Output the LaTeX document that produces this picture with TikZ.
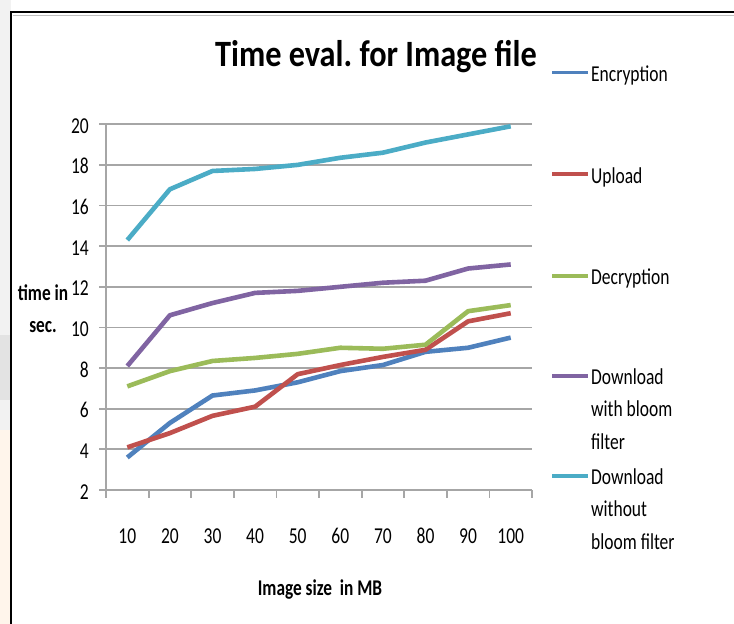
\documentclass[tikz,border=0pt]{standalone}
\usepackage{fontspec}
\usepackage{graphicx}
\setmainfont{Carlito}
\definecolor{encblue}{HTML}{4F81BD}
\definecolor{upred}{HTML}{C0504D}
\definecolor{decgreen}{HTML}{9BBB59}
\definecolor{dlpurple}{HTML}{8064A2}
\definecolor{dlcyan}{HTML}{4BACC6}
\definecolor{gridgray}{HTML}{A6A6A6}
\newcommand{\tallbox}[1]{\scalebox{1}[1.3]{#1}}
\begin{document}
\frenchspacing
\begin{tikzpicture}[x=1pt, y=-1pt,
  series/.style={line width=4.6pt, line join=round},
  gridln/.style={gridgray, line width=1.8pt},
  ticklbl/.style={inner sep=0pt, font=\fontsize{17.5}{17.5}\selectfont},
  leglbl/.style={inner sep=0pt, align=left, anchor=base west, font=\fontsize{17.5}{32.7}\selectfont},
  axlbl/.style={inner sep=0pt, anchor=base, font=\bfseries\fontsize{17.3}{17.3}\selectfont}]
\useasboundingbox (0,0) rectangle (734,624);
% slide background and frame
\fill[white] (0,0) rectangle (734,624);
\fill[gray!10] (0,0) rectangle (11,624);
\fill[gray!22] (0,335) rectangle (11,400);
\fill[orange!8] (0,430) rectangle (11,624);
\draw[line width=2.6pt, line cap=rect] (11,624) -- (11,12) -- (734,12);
\draw[gray!50, line width=0.8pt] (13,15.5) -- (734,15.5);
% title
\node[inner sep=0pt, anchor=base, font=\bfseries\fontsize{32.3}{32.3}\selectfont] (title) at (376,66) {\scalebox{1}[1.15]{Time eval. for Image file}};
% plot area: x = category, y = seconds
\begin{scope}[shift={(84.7,530.64)}, x=42.6pt, y=20.32pt]
\foreach \v in {4,6,...,20}
  \draw[gridln] (0.336,\v) -- (10.5,\v);
\draw[gridln] (0.336,2) -- (10.5,2);
\draw[gridln] (0.5,20) -- (0.5,1.606);
\foreach \t in {1.5,2.5,...,10.5}
  \draw[gridln] (\t,2) -- (\t,1.606);
\foreach \v in {2,4,...,20}
  \node[ticklbl, anchor=base east] (yt\v) at (0.1,\v-0.443) {\tallbox{\v}};
\foreach \i in {1,...,10}
  \node[ticklbl, anchor=base] (xt\i) at (\i,-0.625) {\tallbox{\the\numexpr\i*10\relax}};
% data series
\draw[series, encblue] plot coordinates {(1,3.6) (2,5.3) (3,6.65) (4,6.9) (5,7.3) (6,7.85) (7,8.15) (8,8.8) (9,9.0) (10,9.5)};
\draw[series, upred] plot coordinates {(1,4.1) (2,4.8) (3,5.65) (4,6.1) (5,7.7) (6,8.15) (7,8.55) (8,8.9) (9,10.3) (10,10.7)};
\draw[series, decgreen] plot coordinates {(1,7.1) (2,7.85) (3,8.35) (4,8.5) (5,8.7) (6,9.0) (7,8.95) (8,9.15) (9,10.8) (10,11.1)};
\draw[series, dlpurple] plot coordinates {(1,8.1) (2,10.6) (3,11.2) (4,11.7) (5,11.8) (6,12.0) (7,12.2) (8,12.3) (9,12.9) (10,13.1)};
\draw[series, dlcyan] plot coordinates {(1,14.3) (2,16.8) (3,17.7) (4,17.8) (5,18.0) (6,18.35) (7,18.6) (8,19.1) (9,19.5) (10,19.9)};
\end{scope}
% axis titles
\node[axlbl] (ylabA) at (43,300) {\tallbox{time in}};
\node[axlbl] (ylabB) at (43,332) {\tallbox{sec.}};
\node[axlbl] (xlab) at (320,595) {\tallbox{Image size\ \ in MB}};
% legend
\draw[series, encblue, line width=3.6pt] (552,72.5) -- (588,72.5);
\node[leglbl] (legA) at (591,81) {\tallbox{Encryption}};
\draw[series, upred, line width=3.6pt] (552,174) -- (588,174);
\node[leglbl] (legB) at (591,183) {\tallbox{Upload}};
\draw[series, decgreen, line width=3.6pt] (552,276) -- (588,276);
\node[leglbl] (legC) at (591,284) {\tallbox{Decryption}};
\draw[series, dlpurple, line width=3.6pt] (552,376) -- (588,376);
\node[leglbl] (legD) at (591,449.4) {\tallbox{Download}\\\tallbox{with bloom}\\\tallbox{filter}};
\draw[series, dlcyan, line width=3.6pt] (552,476) -- (588,476);
\node[leglbl] (legE) at (591,549.4) {\tallbox{Download}\\\tallbox{without}\\\tallbox{bloom filter}};
\end{tikzpicture}
\end{document}
